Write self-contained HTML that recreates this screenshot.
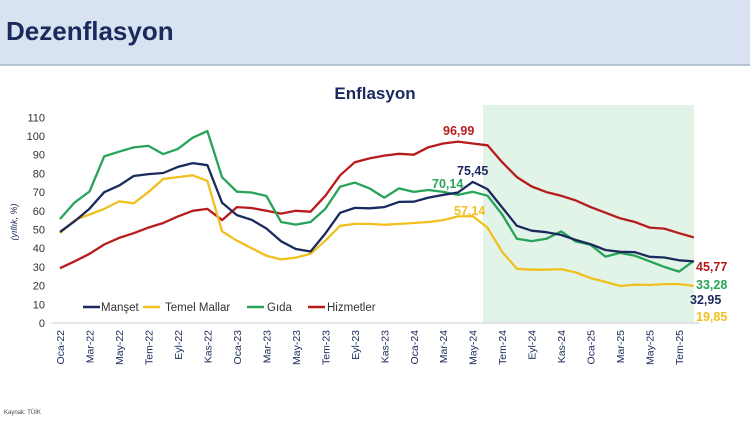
<!DOCTYPE html>
<html><head><meta charset="utf-8"><style>
body{margin:0;width:750px;height:421px;background:#fff;overflow:hidden;font-family:"Liberation Sans",sans-serif}
.hdr{position:absolute;left:0;top:0;width:750px;height:64px;background:#d8e2f0;border-bottom:2px solid #b8c4d6}
.hdr span{position:absolute;left:6px;top:16px;font-size:26px;font-weight:bold;color:#1b2a5c}
</style></head><body>
<div class="hdr"><span>Dezenflasyon</span></div>
<svg id="s" width="750" height="421" style="position:absolute;left:0;top:0" font-family="Liberation Sans, sans-serif">
<rect x="483" y="105" width="211" height="218" fill="#e2f4e8"/>
<text x="375" y="99" text-anchor="middle" font-size="17" font-weight="bold" fill="#1b2a5c">Enflasyon</text>
<line x1="52" y1="323" x2="700" y2="323" stroke="#ccc" stroke-width="1"/>
<g id="yt" font-size="11" fill="#333" text-anchor="end"></g>
<text transform="translate(17,222) rotate(-90)" text-anchor="middle" font-size="9" font-style="italic" fill="#1b2a5c">(yıllık, %)</text>
<g id="xt" font-size="10.5" fill="#1b2a5c"></g>
<g id="ln" fill="none" stroke-width="2.3" stroke-linejoin="round"></g>
<g font-size="12.5" font-weight="bold">
<text x="443" y="135" fill="#b71c1c">96,99</text>
<text x="457" y="175" fill="#1b2a5c">75,45</text>
<text x="432" y="188" fill="#27a35a">70,14</text>
<text x="454" y="215" fill="#f0c020">57,14</text>
<text x="696" y="271" fill="#b71c1c">45,77</text>
<text x="696" y="289" fill="#27a35a">33,28</text>
<text x="690" y="304" fill="#1b2a5c">32,95</text>
<text x="696" y="321" fill="#f0c020">19,85</text>
</g>
<g font-size="11.5" fill="#333">
<line x1="83" y1="307" x2="100" y2="307" stroke="#1b2a5c" stroke-width="2.5"/><text x="101" y="311">Manşet</text>
<line x1="143" y1="307" x2="160" y2="307" stroke="#f0c020" stroke-width="2.5"/><text x="165" y="311">Temel Mallar</text>
<line x1="247" y1="307" x2="264" y2="307" stroke="#27a35a" stroke-width="2.5"/><text x="267" y="311">Gıda</text>
<line x1="308" y1="307" x2="325" y2="307" stroke="#b71c1c" stroke-width="2.5"/><text x="327" y="311">Hizmetler</text>
</g>
<text x="4" y="414" font-size="6" fill="#444">Kaynak: TÜİK</text>
</svg>
<script>
var ns="http://www.w3.org/2000/svg";
function X(i){return 60+i*14.74} function Y(v){return 323-v*1.87}
var yt=document.getElementById('yt');
for(var v=0;v<=110;v+=10){var t=document.createElementNS(ns,'text');t.setAttribute('x',45);t.setAttribute('y',Y(v)+4);t.textContent=v;yt.appendChild(t);}
var m=['Oca','Mar','May','Tem','Eyl','Kas'],xt=document.getElementById('xt');
for(var i=0;i<=42;i+=2){var lbl=m[(i%12)/2]+'-'+(22+Math.floor(i/12));var t=document.createElementNS(ns,'text');t.setAttribute('transform','translate('+(X(i)+4)+',330) rotate(-90)');t.setAttribute('text-anchor','end');t.textContent=lbl;xt.appendChild(t);}
var D={
'#b71c1c':[29.3,33,37,42,45.5,48,51,53.5,57,60,61,55,62,61.5,60,58.5,60,59.5,68,79,86,88,89.5,90.5,90,94,96,96.99,96,95,86,78,73,70,68,65.5,62,59,56,54,51,50.5,48,45.77],
'#27a35a':[55.6,64.5,70.3,89.1,91.6,93.9,94.7,90.3,93.1,99.1,102.6,77.9,70.2,69.8,67.9,54,52.6,54,61,72.9,75.1,72,67,72,70.1,71.1,70.1,68.5,70.14,68.1,58,45,43.8,45,49,43.6,41.8,35.5,37.5,36,33,30,27.5,33.28],
'#f0c020':[48,55,58,61,65,64,70,77,78,79,76,49,44,40,36,34,35,37,44,52,53,53,52.5,53,53.5,54,55,57,57.14,51,38,29,28.5,28.5,28.8,27,24,22,19.8,20.5,20.3,20.8,20.8,19.85],
'#1b2a5c':[48.69,54.44,61.14,69.97,73.5,78.62,79.6,80.21,83.45,85.51,84.39,64.27,57.68,55.18,50.51,43.68,39.59,38.21,47.83,58.94,61.53,61.36,61.98,64.77,64.86,67.07,68.5,69.8,75.45,71.6,61.78,51.97,49.38,48.58,47.09,44.38,42.12,39.05,38.1,37.86,35.41,35.05,33.52,32.95]};
var ln=document.getElementById('ln');
for(var c in D){var p=D[c].map(function(v,i){return X(i).toFixed(1)+','+Y(v).toFixed(1)}).join(' ');var e=document.createElementNS(ns,'polyline');e.setAttribute('points',p);e.setAttribute('stroke',c);ln.appendChild(e);}
</script>
</body></html>
